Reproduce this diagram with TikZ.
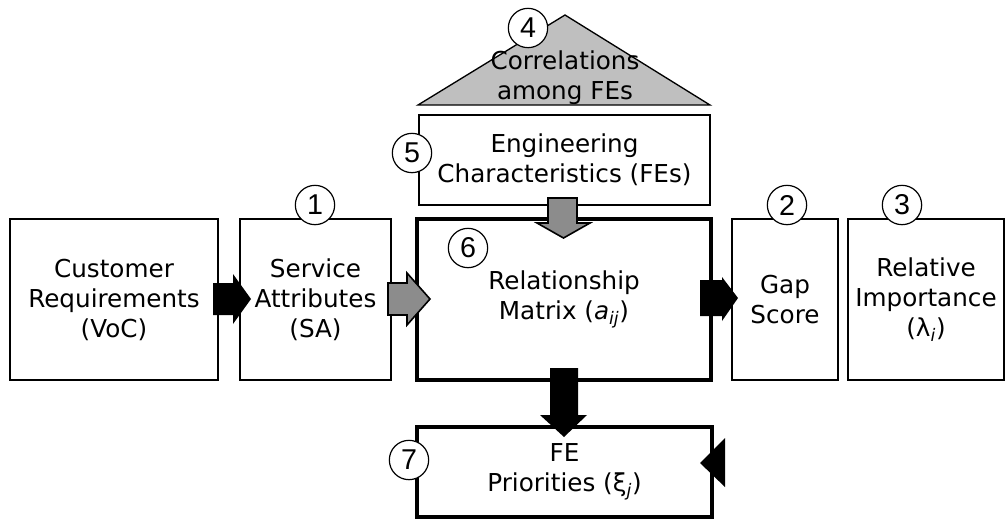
\documentclass[tikz,border=0pt]{standalone}
\usepackage{fontspec}
\setmainfont{DejaVu Sans}
\newfontfamily\qfddigits{Liberation Sans}
\newcommand\qfdboxfont{\fontsize{18.5}{22.5}\selectfont}
\newcommand\qfdnumfont{\qfddigits\fontsize{21.5}{22}\selectfont}
\begin{document}
\begin{tikzpicture}[x=0.75pt,y=-0.75pt,
  box/.style={draw, line width=1.1pt, inner sep=0pt, align=center, font=\qfdboxfont, minimum height=120.75pt,
    execute at begin node={\rule{0pt}{19.5pt}}},
  thickbox/.style={box, line width=2.3pt},
  num/.style={circle, draw, line width=0.9pt, fill=white, minimum size=29.5pt, inner sep=0pt, font=\qfdnumfont},
  blk/.style={fill=black},
  gry/.style={fill=black!45, draw=black, line width=1.2pt, line join=miter},
  roof/.style={fill=black!25, draw=black, line width=1pt, line join=miter},
]
\useasboundingbox (0,0) rectangle (1008,519);

% roof (correlations)
\coordinate (rl) at (418,105);
\coordinate (rr) at (710,105);
\coordinate (rt) at (565,15);
\draw[roof] (rl) -- (rt) -- (rr) -- cycle;
\node[align=center, font=\qfdboxfont, inner sep=0pt] (corr) at (565,78) {Correlations\\among FEs};
\node[num] (c4) at (528,28) {4};

% boxes
\node[box, minimum width=156pt] (voc) at (114,299.5) {Customer\\Requirements\\(VoC)};
\node[box, minimum width=113.25pt] (sa) at (315.5,299.5) {Service\\Attributes\\(SA)};
\node[thickbox, minimum width=220.5pt] (mat) at (564,299.5) {Relationship\\Matrix (\textit{a}\textsubscript{\textit{ij}})};
\node[box, minimum width=218.25pt, minimum height=67.5pt] (ec) at (564.5,160) {Engineering\\Characteristics (FEs)};
\node[box, minimum width=79.5pt] (gap) at (785,299.5) {Gap\\Score};
\node[box, minimum width=117pt] (imp) at (926,299.5) {Relative\\Importance\\(λ\textsubscript{\textit{i}})};
\node[thickbox, minimum width=221.25pt, minimum height=67.5pt] (fe) at (564.5,472) {FE\\Priorities (ξ\textsubscript{\textit{j}})};

% number circles
\node[num] (c1) at (315,205) {1};
\node[num] (c2) at (787,205) {2};
\node[num] (c3) at (902,205) {3};
\node[num] (c5) at (412,153) {5};
\node[num] (c6) at (468,248) {6};
\node[num] (c7) at (409,460) {7};

% block arrows
% VoC -> SA
\fill[blk] (213,283) -- (233,283) -- (233,274) -- (251,299) -- (233,324) -- (233,315) -- (213,315) -- cycle;
% SA -> Matrix
\filldraw[gry] (388,283) -- (407,283) -- (407,273) -- (430,299) -- (407,325) -- (407,315) -- (388,315) -- cycle;
% EC -> Matrix
\filldraw[gry] (548,198) -- (577,198) -- (577,223) -- (590,223) -- (563.5,238) -- (537,223) -- (548,223) -- cycle;
% Matrix -> Gap
\fill[blk] (700,280) -- (722,280) -- (722,277) -- (738,298) -- (722,321) -- (722,316) -- (700,316) -- cycle;
% Matrix -> FE
\fill[blk] (550,368) -- (578,368) -- (578,415) -- (587,415) -- (564,437) -- (540,415) -- (550,415) -- cycle;
% arrowhead into FE from the right
\coordinate (ahtip) at (700,463);
\fill[blk] (ahtip) -- (725,438) -- (725,487) -- cycle;
\end{tikzpicture}
\end{document}
